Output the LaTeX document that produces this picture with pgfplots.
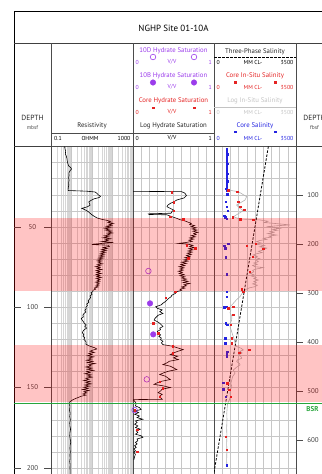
\documentclass[border=0pt]{standalone}
\usepackage{pgfplots}
\usepackage{pgfplotstable}
\pgfplotsset{compat=1.18}
\usepackage{fontspec}
\setmainfont{PT Sans}
\definecolor{hpurple}{RGB}{155,60,235}
\definecolor{hred}{RGB}{228,35,35}
\definecolor{hblue}{RGB}{35,35,225}
\definecolor{lgray}{RGB}{195,195,195}
\definecolor{bsr}{RGB}{40,165,60}
\newcommand{\fs}[1]{\fontsize{#1}{#1}\selectfont}
\pgfplotsset{
  track/.style={scale only axis, anchor=north west, height=337.47bp,
    ymin=0, ymax=210, y dir=reverse, ytick={0,10,...,210}, yticklabels={},
    xticklabels={}, ymajorgrids, xmajorgrids,
    major tick length=0pt, minor tick length=0pt,
    grid style={black!22, line width=0.35pt},
    minor grid style={black!16, line width=0.35pt},
    axis line style={black!70, line width=0.9pt}, clip=true},
}
% Resistivity (depth mbsf, ohm-m)
\pgfplotstableread[row sep=\\]{
d R\\
0 0.46\\ 1.5 0.48\\ 3 0.52\\ 4.5 0.5\\ 6 0.56\\ 7.5 0.6\\ 9 0.62\\ 10.5 0.66\\ 12 0.72\\ 13 0.9\\ 14 1.0\\ 15 0.86\\ 16.5 0.74\\ 18 0.76\\ 19.5 0.72\\ 21 0.76\\ 22.5 0.72\\ 24 0.74\\ 25.5 0.7\\ 27 0.68\\ 27.4 0.7\\
27.8 5.5\\ 28.3 14\\ 29 17\\ 30 20\\ 31 26\\ 31.8 22\\ 32.5 13\\ 33.5 9\\ 34.5 7\\ 35.5 7.5\\ 36.5 8\\ 37.5 6\\ 38.5 3.2\\ 39.5 4.8\\ 40.5 6.5\\ 41.5 8\\ 42.5 10\\ 43.5 13\\ 44.5 18\\ 45.3 30\\ 46 55\\ 46.6 80\\ 47.2 60\\
47.8 110\\ 48.4 70\\ 49 95\\ 49.6 50\\ 50.2 85\\ 50.8 40\\ 51.4 70\\ 52 45\\ 52.6 90\\ 53.2 60\\ 53.8 100\\ 54.4 55\\ 55 75\\ 55.6 40\\ 56.2 65\\ 56.8 35\\ 57.4 80\\ 58 45\\ 58.6 60\\ 59.2 30\\ 59.8 110\\ 60.4 25\\ 61 10\\ 61.4 60\\ 62.2 70\\ 62.8 35\\ 63.4 55\\ 64 30\\ 64.6 50\\ 65.2 28\\ 65.8 45\\ 66.4 26\\ 67 40\\ 67.6 24\\ 68.2 38\\ 68.8 22\\ 69.4 35\\ 70 20\\ 70.6 30\\ 71.2 18\\ 71.8 28\\ 72.4 20\\ 73 32\\ 73.6 18\\ 74.2 26\\ 74.8 15\\ 75.4 25\\ 76 18\\ 76.6 30\\ 77.2 16\\ 77.8 24\\ 78.4 17\\ 79 28\\ 79.6 16\\ 80.2 24\\ 80.8 17\\ 81.4 28\\ 82 16\\ 82.6 25\\ 83.2 18\\ 83.8 24\\ 84.4 15\\ 85 23\\ 85.6 17\\ 86.2 22\\ 86.8 15\\ 87.4 20\\ 88 13\\ 88.8 15\\ 89.5 11\\
90.2 11\\ 91 9\\ 92 10\\ 93 8\\ 94 8.5\\ 95 7.5\\ 96 6.5\\ 97 7\\ 98 5.5\\ 99 6\\ 100 5\\ 101 5.2\\ 102 4.5\\ 103 5\\ 104 4\\ 105 3.6\\ 106 3.8\\ 107 3.0\\ 108 3.3\\ 109 3.8\\ 110 4.2\\ 111 5.2\\ 112 4.5\\ 113 5.5\\ 114 4.2\\ 115 3.6\\ 116 3.4\\ 117 4\\ 118 3.6\\ 119 4.4\\ 120 4\\ 121 4.8\\ 122 5.2\\ 123 5\\
123.8 6.5\\ 124.5 9\\ 125.3 14\\ 126 17\\ 126.7 11\\ 127.4 8\\ 128.1 13\\ 128.8 7\\ 129.5 10\\ 130.2 6\\ 130.9 12\\ 131.6 7\\ 132.3 9.5\\ 133 5.5\\ 133.7 11\\ 134.4 6\\ 135.1 14\\ 135.8 7\\ 136.5 9\\ 137.2 5\\ 137.9 10\\ 138.6 6\\ 139.3 12\\ 140 5.5\\ 140.7 8\\ 141.4 4.5\\ 142.1 9\\ 142.8 6\\ 143.5 10\\ 144.2 5\\ 144.9 7\\ 145.6 4\\ 146.3 8\\ 147 5\\ 147.7 9\\ 148.4 4.5\\ 149.1 7.5\\ 149.8 4\\ 150.5 6.5\\ 151.2 3.5\\ 151.9 7\\ 152.6 4\\ 153.3 5.5\\ 154 3.6\\ 154.7 5\\ 155.4 3\\ 156.1 2.2\\ 156.8 1.6\\ 157.5 1.2\\
158.3 0.95\\ 159 0.82\\ 160 0.8\\ 162 0.84\\ 164 0.8\\ 166 0.86\\ 168 0.82\\ 170 0.88\\ 172 0.82\\ 174 0.84\\ 176 0.9\\ 178 0.84\\ 180 0.82\\ 182 0.86\\ 184 0.92\\ 186 0.86\\ 188 0.84\\ 190 0.88\\ 192 0.84\\ 194 0.86\\ 196 0.82\\ 198 0.86\\ 200 0.84\\ 202 0.86\\ 206 0.84\\
}\resdata
% Log hydrate saturation (depth, V/V)
\pgfplotstableread[row sep=\\]{
d S\\
27.9 0\\ 28.1 0.6\\ 29 0.64\\ 30.5 0.66\\ 32 0.63\\ 33.3 0.54\\ 34.5 0.5\\ 35.4 0.46\\ 36.5 0.43\\ 37.5 0.42\\ 38.5 0.46\\ 39.5 0.5\\ 40.5 0.48\\ 41.5 0.47\\ 41.9 0.19\\ 42.3 0.2\\ 42.5 0.42\\ 43.5 0.47\\ 44.7 0.54\\ 45.5 0.58\\ 46.3 0.64\\ 47.1 0.68\\
47.8 0.72\\ 48.5 0.7\\ 49.2 0.76\\ 49.9 0.72\\ 50.6 0.78\\ 51.3 0.73\\ 52 0.79\\ 52.7 0.74\\ 53.4 0.8\\ 54.1 0.75\\ 54.8 0.78\\ 55.5 0.72\\ 56.2 0.77\\ 56.9 0.7\\ 57.6 0.75\\ 58.3 0.69\\ 59 0.73\\ 59.7 0.66\\ 60.3 0.56\\ 60.8 0.68\\ 61.5 0.74\\ 62.2 0.7\\ 62.9 0.76\\ 63.6 0.69\\ 64.3 0.74\\ 65 0.68\\ 65.7 0.73\\ 66.4 0.67\\ 67.1 0.72\\ 67.8 0.66\\ 68.5 0.7\\ 69.2 0.64\\ 69.9 0.69\\ 70.6 0.63\\ 71.3 0.68\\ 72 0.6\\ 72.7 0.66\\ 73.4 0.59\\ 74.1 0.64\\ 74.8 0.57\\ 75.5 0.63\\ 76.2 0.58\\ 76.9 0.62\\ 77.6 0.56\\ 78.3 0.61\\ 79 0.57\\ 79.7 0.63\\ 80.4 0.58\\ 81.1 0.64\\ 81.8 0.6\\ 82.5 0.66\\ 83.2 0.61\\ 83.9 0.68\\ 84.6 0.62\\ 85.3 0.7\\ 86 0.63\\ 86.7 0.66\\ 87.4 0.6\\ 88.1 0.64\\ 88.8 0.58\\ 89.5 0.6\\
90.3 0.54\\ 91.5 0.52\\ 92.5 0.48\\ 93.5 0.47\\ 94.5 0.44\\ 95.5 0.42\\ 96.5 0.4\\ 97.5 0.37\\ 98.5 0.35\\ 99.7 0.28\\ 100.7 0.3\\ 101.7 0.36\\ 102.8 0.33\\ 103.9 0.37\\ 105 0.31\\ 106 0.29\\ 107 0.27\\ 108 0.26\\ 109 0.3\\ 110 0.33\\ 111 0.35\\ 112 0.37\\ 113 0.33\\ 114 0.34\\ 115 0.3\\ 116.2 0.31\\ 117.2 0.34\\ 118.2 0.32\\ 119.2 0.35\\ 120.2 0.34\\ 121.2 0.37\\ 122.2 0.35\\ 123.3 0.37\\
124.3 0.49\\ 125.3 0.55\\ 126.4 0.62\\ 127.5 0.55\\ 128.5 0.5\\ 129.5 0.46\\ 130.5 0.55\\ 131.5 0.5\\ 132.6 0.56\\ 133.6 0.45\\ 134.6 0.42\\ 135.7 0.37\\ 136.7 0.46\\ 137.7 0.5\\ 138.8 0.54\\ 139.8 0.44\\ 140.8 0.38\\ 141.9 0.33\\ 142.9 0.4\\ 144 0.43\\ 145 0.46\\ 146 0.36\\ 147 0.3\\ 148 0.26\\ 149 0.38\\ 150 0.46\\ 151 0.36\\ 152.1 0.34\\ 153.2 0.31\\ 154.2 0.36\\ 155.3 0.33\\ 156.3 0.34\\ 157.3 0.36\\ 157.5 0\\
158.5 0.02\\ 160 0.04\\ 161.4 0.03\\ 162.5 0.08\\ 163.6 0.1\\ 164.6 0.03\\ 165.6 0.07\\ 166.6 0.02\\ 167.7 0.08\\ 168.7 0.05\\ 169.7 0.12\\ 170.8 0.03\\ 171.8 0.05\\ 172.8 0.02\\ 173.9 0.06\\ 174.9 0.03\\ 175.9 0.09\\ 176.9 0.04\\ 178 0.06\\ 179 0.03\\ 180 0.1\\ 181 0.12\\ 182 0.05\\ 183.1 0.06\\ 184.1 0.03\\ 185.1 0.05\\ 186.2 0.02\\ 187.2 0.04\\ 188.2 0.01\\ 189.3 0.03\\ 190.3 0.01\\ 191.5 0.03\\ 193 0.02\\ 195 0.01\\
}\hyddata
% Log in-situ salinity (depth, mM Cl-)
\pgfplotstableread[row sep=\\]{
d C\\
27.1 612\\ 28.1 1038\\ 31.2 1394\\ 33.3 1323\\ 36.4 967\\ 38.5 1110\\ 39.9 1252\\ 43.7 825\\ 45.1 1110\\ 45.7 1963\\ 46.5 2300\\ 47.3 2150\\ 47.8 2532\\ 48.3 2900\\ 48.8 3244\\ 49.3 2700\\ 49.9 2248\\ 50.4 2600\\ 50.9 2817\\ 51.5 2500\\ 52.1 2700\\ 53.0 2390\\ 53.6 2550\\ 54.2 2300\\ 55.1 2674\\ 55.7 2350\\ 56.4 2450\\ 57.1 2105\\ 57.8 2250\\ 58.5 1950\\ 59.2 1821\\ 60 2000\\ 60.8 1800\\ 61.6 2150\\ 62.4 1950\\ 63.2 2250\\ 64.4 2105\\ 65.2 1900\\ 66 2050\\ 66.8 1800\\ 67.5 1679\\ 68.3 1850\\ 69 1750\\ 69.8 1950\\ 70.6 1800\\ 71.7 1892\\ 72.5 1700\\ 73.3 1850\\ 74 1650\\ 74.8 1750\\ 75.3 2100\\ 75.8 1963\\ 76.4 1750\\ 77.1 1650\\ 78 1700\\ 79 1536\\ 79.8 1700\\ 80.6 1600\\ 81.4 1800\\ 82.2 1700\\ 83.1 1892\\ 83.9 1700\\ 84.7 1800\\ 85.5 1650\\ 86.3 1850\\ 87.2 1750\\ 88 1500\\ 89 1350\\ 90.3 1252\\ 91.8 1180\\ 93.4 1110\\ 95.5 950\\ 97.6 825\\ 99.7 683\\ 101.7 720\\ 103.5 683\\ 105.5 760\\ 107.9 754\\ 110 700\\ 112.1 683\\ 114.5 740\\ 116.5 780\\ 118.3 825\\ 120.5 870\\ 122.5 900\\ 124.5 967\\ 125.5 1150\\ 126.6 1252\\ 127.5 1100\\ 128.5 1200\\ 129.7 1038\\ 130.7 1150\\ 131.8 1181\\ 132.8 1000\\ 133.9 967\\ 134.9 1080\\ 135.9 1110\\ 137.5 950\\ 139.1 825\\ 141 900\\ 143 800\\ 145.3 754\\ 147.5 720\\ 149.5 760\\ 151.5 700\\ 153.6 683\\ 155.5 700\\ 157.7 654\\ 160 580\\ 163 560\\ 166 545\\ 170 555\\ 175 540\\ 180 550\\ 185 540\\ 190 548\\ 195 540\\ 198 545\\
}\logsal
\begin{document}
\begin{tikzpicture}
\path[use as bounding box, clip] (0bp,0bp) rectangle (322bp,-474bp);
\tikzset{lab/.style={inner sep=0pt, font=\fs{6.8}}, sc/.style={inner sep=0pt, font=\fs{5.8}}}
\begin{scope}[x=1bp,y=-1bp]
\draw[black, line width=0.8pt] (14,480) -- (14,11) -- (340,11);
\draw[black!75, line width=0.7pt] (14,43) -- (340,43);
\draw[black!75, line width=0.7pt] (14,146.5) -- (340,146.5);
\foreach \x in {51,133,214,296} \draw[black!70, line width=0.9pt] (\x,43) -- (\x,146.5);
\draw[black!70, line width=0.6pt] (51,133) -- (214,133);
\draw[black, line width=0.9pt, dash pattern=on 2.5bp off 1.5bp] (214,57.5) -- (296,57.5);
\draw[lgray, line width=0.6pt] (214,107.7) -- (296,107.7);
\node[inner sep=0pt, font=\fs{9}] at (173.5,28) {NGHP Site 01-10A};
\node[inner sep=0pt, font=\fs{7.5}, text=black!85] at (32.5,118) {DEPTH};
\node[inner sep=0pt, font=\fs{5.5}, text=black!70] at (32.5,128) {mbsf};
\node[inner sep=0pt, font=\fs{7.5}, text=black!85] at (314.5,118) {DEPTH};
\node[inner sep=0pt, font=\fs{5.5}, text=black!70] at (314.5,128) {fbsf};
% resistivity header
\node[lab, text=black!85] at (92,126) {Resistivity};
\node[sc, anchor=west] at (54,138) {0.1};
\node[sc] at (90,138) {OHMM};
\node[sc, anchor=east] at (130.5,138) {1000};
% hydrate header
\node[lab, text=hpurple] at (173.5,51) {10D Hydrate Saturation};
\node[lab, text=hpurple] at (173.5,75.5) {10B Hydrate Saturation};
\node[lab, text=hred] at (173.5,100.7) {Core Hydrate Saturation};
\node[lab, text=black!85] at (173.5,126) {Log Hydrate Saturation};
\node[sc, text=hpurple, anchor=west] at (135.5,62) {0};
\node[sc, text=hpurple] at (172,62) {V/V};
\node[sc, text=hpurple, anchor=east] at (212,62) {1};
\node[sc, text=hpurple, anchor=west] at (135.5,87) {0};
\node[sc, text=hpurple] at (172,87) {V/V};
\node[sc, text=hpurple, anchor=east] at (212,87) {1};
\node[sc, text=hred, anchor=west] at (135.5,112) {0};
\node[sc, text=hred] at (172,112) {V/V};
\node[sc, text=hred, anchor=east] at (212,112) {1};
\node[sc, anchor=west] at (135.5,138) {0};
\node[sc] at (172,138) {V/V};
\node[sc, anchor=east] at (212,138) {1};
% salinity header
\node[lab, text=black!85] at (255,52) {Three-Phase Salinity};
\node[lab, text=hred] at (255,76) {Core In-Situ Salinity};
\node[lab, text=lgray] at (255,100.5) {Log In-Situ Salinity};
\node[lab, text=hblue] at (255,125.7) {Core Salinity};
\node[sc, anchor=west] at (216.5,62) {0};
\node[sc] at (253,62) {MM CL-};
\node[sc, anchor=east] at (293.5,62) {3500};
\node[sc, text=hred, anchor=west] at (216.5,87) {0};
\node[sc, text=hred] at (253,87) {MM CL-};
\node[sc, text=hred, anchor=east] at (293.5,87) {3500};
\node[sc, text=lgray, anchor=west] at (216.5,112) {0};
\node[sc, text=lgray] at (253,112) {MM CL-};
\node[sc, text=lgray, anchor=east] at (293.5,112) {3500};
\node[sc, text=hblue, anchor=west] at (216.5,138) {0};
\node[sc, text=hblue] at (253,138) {MM CL-};
\node[sc, text=hblue, anchor=east] at (293.5,138) {3500};
\node[inner sep=0pt, font=\bfseries\fs{7}, text=bsr] at (312.5,409.5) {BSR};
\end{scope}
% header legend symbols
\begin{axis}[scale only axis, anchor=north west, at={(0bp,0bp)}, width=322bp, height=146bp,
  xmin=0, xmax=322, ymin=0, ymax=146, y dir=reverse, hide axis, clip=false]
\addplot[only marks, mark=o, mark size=2.8bp, hpurple, mark options={line width=0.6pt}] coordinates {(153,57) (194,57)};
\addplot[only marks, mark=*, mark size=2.8bp, hpurple] coordinates {(153,82.5) (194,82.5)};
\addplot[only marks, mark=square*, mark size=0.7bp, hred] coordinates {(153,107.5) (194,107.5)};
\addplot[only marks, mark=square*, mark size=0.7bp, hred] coordinates {(235,82) (275,82)};
\addplot[only marks, mark=square*, mark size=0.7bp, hblue] coordinates {(235,131.5) (275,131.5)};
\end{axis}
% depth mbsf column
\begin{axis}[scale only axis, anchor=north west, at={(14bp,-146.5bp)}, width=37bp, height=337.47bp,
  xmin=0, xmax=1, ymin=0, ymax=210, y dir=reverse, xtick=\empty, ytick={50,100,150,200}, yticklabels={},
  tick align=inside, ytick pos=both, major tick length=7bp, axis line style={draw=none},
  tick style={black!70, line width=0.6pt}, clip=false]
\node[inner sep=0pt, font=\fs{7}, text=black!75] at (axis cs:0.5,50) {50};
\node[inner sep=0pt, font=\fs{7}, text=black!75] at (axis cs:0.5,100) {100};
\node[inner sep=0pt, font=\fs{7}, text=black!75] at (axis cs:0.5,150) {150};
\node[inner sep=0pt, font=\fs{7}, text=black!75] at (axis cs:0.5,200) {200};
\end{axis}
% depth fbsf column
\begin{axis}[scale only axis, anchor=north west, at={(296bp,-146.5bp)}, width=37bp, height=337.47bp,
  xmin=0, xmax=1, ymin=0, ymax=688.98, y dir=reverse, xtick=\empty, ytick={100,200,300,400,500,600}, yticklabels={},
  tick align=inside, ytick pos=left, major tick length=7bp, axis line style={draw=none},
  tick style={black!70, line width=0.6pt}, clip=false]
\node[inner sep=0pt, anchor=west, font=\fs{7}, text=black!75] at (axis cs:0.3,100) {100};
\node[inner sep=0pt, anchor=west, font=\fs{7}, text=black!75] at (axis cs:0.3,200) {200};
\node[inner sep=0pt, anchor=west, font=\fs{7}, text=black!75] at (axis cs:0.3,300) {300};
\node[inner sep=0pt, anchor=west, font=\fs{7}, text=black!75] at (axis cs:0.3,400) {400};
\node[inner sep=0pt, anchor=west, font=\fs{7}, text=black!75] at (axis cs:0.3,500) {500};
\node[inner sep=0pt, anchor=west, font=\fs{7}, text=black!75] at (axis cs:0.3,600) {600};
\end{axis}
% resistivity track
\begin{axis}[track, at={(51bp,-146.5bp)}, width=82bp, xmode=log, xmin=0.1, xmax=1000,
  xtick={0.1,1,10,100,1000},
  minor xtick={0.2,0.3,0.4,0.5,0.6,0.7,0.8,0.9,2,3,4,5,6,7,8,9,20,30,40,50,60,70,80,90,200,300,400,500,600,700,800,900},
  xminorgrids]
\addplot[black, line width=0.6pt] table[x=R, y=d] {\resdata};
\end{axis}
% hydrate saturation track
\begin{axis}[track, at={(133bp,-146.5bp)}, width=81bp, xmin=0, xmax=1,
  xtick={0,0.1,...,1}]
\addplot[black, line width=0.6pt] table[x=S, y=d] {\hyddata};
\addplot[only marks, mark=square*, mark size=0.7bp, hred] coordinates {
(0.48,28.5)(0.5,34.7)(0.5,39.9)(0.46,43.7)(0.62,45.3)(0.66,61.3)(0.77,63.4)(0.68,69.6)(0.52,90.3)(0.40,93.9)(0.25,110)(0.31,116.2)(0.49,124.3)(0.49,128.7)(0.33,146.3)(0.37,150.5)(0.33,155.7)(0.02,164)(0.05,176.4)(0.05,189.9)};
\addplot[only marks, mark=o, mark size=2.8bp, hpurple, mark options={line width=0.6pt}] coordinates {(0.19,77.5)(0.17,144.9)(0.02,164)};
\addplot[only marks, mark=*, mark size=2.8bp, hpurple] coordinates {(0.21,97.6)(0.25,116.9)};
\end{axis}
% salinity track
\begin{axis}[track, at={(214bp,-146.5bp)}, width=82bp, xmin=0, xmax=3500,
  xtick={0,350,...,3500}]
\addplot[gray!60, line width=0.6pt] table[x=C, y=d] {\logsal};
\addplot[black, line width=0.8pt, dash pattern=on 2.5bp off 1.5bp] coordinates {(2320,0) (-80,210)};
\addplot[only marks, mark=square*, mark size=0.7bp, hblue] coordinates {
(550,1.2)(545,2.4)(550,3.6)(555,4.8)(548,6)(552,7.2)(545,8.4)(550,9.6)(556,10.8)(548,12)(552,13.2)(545,14.4)(550,15.6)(555,16.8)(548,18)(552,19.2)(548,20.4)(556,21.6)(550,22.8)(545,24)(550,25.2)
(512,26.2)(555,27.5)(570,29.6)(512,34.3)(540,37.4)(583,40.1)(427,43.2)(484,44.1)(540,44.9)(612,60.3)(427,61.9)(484,63.4)(512,69)(540,79.5)(540,90.3)(540,93.4)(427,100.1)(540,99.7)(512,110)(569,111)(484,119.3)(484,122.4)(569,127.7)(540,128.7)(540,130.4)(398,147)(398,151.1)(512,155.7)(540,198.2)};
\addplot[only marks, mark=square*, mark size=0.7bp, hred] coordinates {
(600,27.3)(996,28.1)(1038,34.3)(1110,37.4)(1295,39.5)(797,44.1)(1110,45.3)(1679,45.7)(1792,60.3)(1394,61.9)(2105,63.6)(1650,68.6)(1536,77.9)(1181,88.9)(1252,90.3)(825,99.7)(612,100.5)(825,104.8)(711,111)(754,119.3)(754,122.4)(1508,126.6)(1081,128.3)(569,147.4)(654,151.5)(711,155.7)(512,180.5)(540,188.8)};
\end{axis}
% hydrate zones and BSR overlay
\begin{axis}[scale only axis, anchor=north west, at={(14bp,-146.5bp)}, width=326bp, height=337.47bp,
  xmin=0, xmax=1, ymin=0, ymax=210, y dir=reverse, hide axis, clip=false]
\addplot[draw=none, fill=red, fill opacity=0.23] coordinates {(0,44.7) (1,44.7) (1,89.9) (0,89.9)} -- cycle;
\addplot[draw=none, fill=red, fill opacity=0.23] coordinates {(0,123.5) (1,123.5) (1,158.8) (0,158.8)} -- cycle;
\addplot[bsr, line width=1.5pt] coordinates {(0,159.8) (1,159.8)};
\end{axis}
\end{tikzpicture}
\end{document}
